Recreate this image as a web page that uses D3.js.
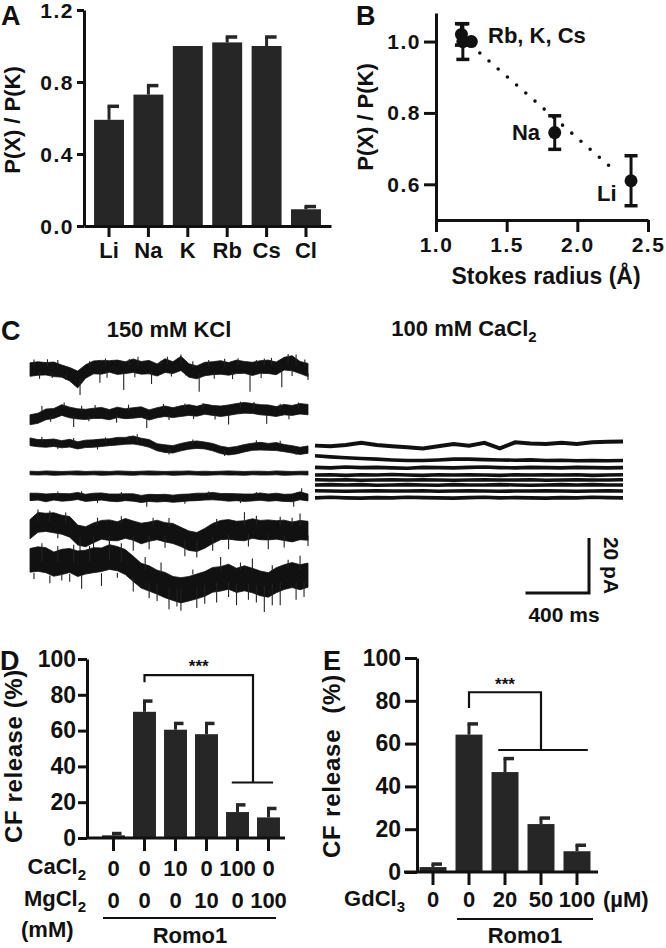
<!DOCTYPE html>
<html><head><meta charset="utf-8">
<script src="https://cdn.jsdelivr.net/npm/d3@7"></script>
<style>
body{margin:0;background:#fff}
text{font-family:"Liberation Sans",Arial,sans-serif;font-weight:bold;fill:#111}
</style>
</head><body>
<svg id="fig" width="666" height="948"></svg>
<script>
// ---------------- DATA ----------------
// Panel A
const ionsA = ["Li","Na","K","Rb","Cs","Cl"];
const ratioA = [0.59,0.73,1.00,1.02,1.00,0.093];
const errA = [0.075,0.05,0,0.03,0.05,0.015];
const ticksA = [0,0.4,0.8,1.2];
// Panel B
const stokesB = [1.18,1.19,1.25,1.84,2.38];
const ratioB = [1.02,1.00,1.00,0.745,0.61];
const errB = [0.03,0.05,0,0.047,0.07];
const fitB = [[1.31,0.968],[2.28,0.633]];
const labelsB = ["Rb, K, Cs","Na","Li"];
const ticksBx = [1.0,1.5,2.0,2.5];
const ticksBy = [0.6,0.8,1.0];
// Panel C  (pA, sampled every dtL / dtR ms)
const dtL = 50, dtR = 97;
const offsL = [0,-15.6,-27.3,-37.5,-46.5,-58.2,-74.5];
const offsR = [-26.9,-32.4,-35.6,-38.2,-40,-41.8,-44,-46.5];
const hi1 = [2.6,3.0,2.7,2.9,1.8,0.9,-0.4,1.9,3.3,3.5,3.4,3.6,3.0,4.0,3.1,3.5,2.2,4.1,3.0,5.0,2.3,1.5,2.8,3.0,3.4,2.7,3.6,3.1,2.8,3.4,3.6,2.9,4.6,5.2,3.1,2.4];
const lo1 = [-2.3,-1.9,-1.8,-2.4,-2.6,-4.0,-6.5,-3.0,-1.4,-1.5,-0.8,-1.6,-1.3,-0.9,-1.5,-1.4,-2.2,-0.9,-1.3,-0.2,-2.6,-3.2,-2.1,-1.7,-1.5,-1.9,-1.3,-1.2,-2.0,-1.2,-1.3,-1.7,0.0,-0.3,-1.3,-2.4];
const hi2 = [-0.7,-0.1,1.4,1.6,3.0,2.1,1.5,1.3,1.7,2.0,1.2,2.1,1.5,1.9,2.2,1.1,1.9,2.5,1.9,2.6,3.0,2.4,3.2,2.7,2.5,2.9,3.4,3.8,3.4,3.0,2.9,2.3,3.1,2.7,3.4,3.1];
const lo2 = [-4.3,-3.8,-2.5,-2.0,-0.9,-1.8,-2.2,-2.4,-2.0,-2.0,-2.5,-1.7,-2.1,-1.9,-1.6,-2.6,-1.8,-1.3,-1.7,-1.3,-0.9,-1.2,-0.5,-0.9,-1.3,-0.9,-0.4,-0.1,-0.2,-0.7,-0.9,-1.3,-0.7,-0.9,-0.4,-0.7];
const hi3 = [2.6,2.0,2.0,2.2,1.6,2.1,1.2,1.8,1.9,2.2,2.3,2.8,2.8,3.3,2.5,2.0,0.5,0.1,-0.2,0.6,1.2,1.5,1.1,0.6,-0.4,-0.9,-0.5,0.2,0.7,1.0,0.6,0.9,0.2,-0.2,-0.8,-0.3];
const lo3 = [-0.2,-0.6,-0.8,-0.5,-1.0,-0.7,-1.4,-0.9,-0.8,-0.5,-0.2,0.0,0.3,0.4,-0.1,-0.8,-2.1,-2.7,-2.9,-2.1,-1.5,-1.2,-1.4,-2.1,-3.1,-3.6,-3.2,-2.5,-1.9,-1.8,-1.9,-2.0,-2.4,-2.9,-3.4,-3.0];
const hi4 = [0.7,0.6,0.8,0.7,0.6,0.7,0.8,0.6,0.7,0.7,0.6,0.8,0.7,0.6,0.7,0.8,0.7,0.6,0.7,0.7,0.8,0.6,0.7,0.6,0.7,0.8,0.7,0.6,0.7,0.7,0.6,0.8,0.7,0.6,0.7,0.7];
const lo4 = [-0.6,-0.7,-0.6,-0.8,-0.7,-0.6,-0.7,-0.7,-0.6,-0.8,-0.7,-0.6,-0.7,-0.8,-0.6,-0.7,-0.7,-0.6,-0.8,-0.7,-0.6,-0.7,-0.8,-0.7,-0.6,-0.7,-0.7,-0.8,-0.6,-0.7,-0.7,-0.6,-0.8,-0.7,-0.6,-0.7];
const hi5 = [1.7,1.7,1.4,1.6,1.6,1.5,2.0,1.3,1.7,1.8,1.4,1.4,1.5,1.5,0.9,1.3,1.2,1.3,1.0,1.3,1.4,1.7,1.7,2.0,1.6,1.6,1.5,1.4,1.4,1.8,1.4,1.7,1.3,1.4,2.2,1.4];
const lo5 = [-1.0,-0.8,-1.4,-0.8,-1.2,-1.0,-0.6,-1.3,-1.0,-0.8,-1.2,-1.4,-1.0,-1.2,-1.7,-1.3,-1.5,-1.3,-1.6,-1.4,-1.1,-1.0,-0.8,-0.7,-0.9,-1.2,-1.0,-1.3,-1.1,-0.9,-1.2,-1.0,-1.3,-1.4,-0.7,-1.1];
const hi6 = [3.8,6.4,6.1,6.3,5.4,4.9,1.8,1.2,2.6,3.5,3.7,3.0,4.2,3.3,2.5,2.9,3.6,2.7,2.4,1.0,-0.3,-0.9,0.6,2.4,3.5,3.8,3.2,3.4,4.1,3.5,3.7,3.4,3.6,2.9,3.5,3.2];
const lo6 = [-3.2,-0.8,-0.5,-1.0,-1.5,-2.6,-5.4,-6.1,-4.6,-3.3,-3.8,-3.9,-3.0,-3.7,-5.0,-4.1,-3.5,-4.3,-4.9,-6.0,-7.4,-7.8,-6.6,-4.9,-3.5,-3.3,-3.7,-3.9,-3.0,-3.5,-3.6,-3.3,-3.8,-4.3,-3.5,-3.7];
const hi7 = [9.6,10.2,9.9,8.3,9.3,9.6,8.7,9.0,9.9,9.8,11.0,10.3,9.2,6.8,4.2,3.3,1.7,0.9,-0.6,-1.0,-0.6,0.3,1.2,2.7,3.0,3.9,2.4,3.3,2.4,1.4,0.8,2.6,3.7,4.5,3.7,4.3];
const lo7 = [1.0,1.3,0.8,-0.5,0.1,0.9,-0.6,0.3,0.8,1.2,2.0,1.5,0.1,-2.4,-4.8,-5.9,-7.0,-8.3,-9.3,-10.2,-9.5,-8.7,-7.8,-6.3,-5.9,-5.2,-6.4,-5.8,-6.5,-7.6,-8.1,-6.5,-5.3,-4.6,-5.4,-4.5];
// spikes / excursions: [sample index, pA]
const sp1 = [[6.3,-9.1],[11.8,-7.3],[15.3,-5.1],[21.3,-7.9],[27.7,-7.9],[31.7,-6.3],[8.8,-4.6],[32.5,5.8],[19,5.6],
  [0.5,3.8],[2.2,3.9],[3.5,3.6],[7.5,3.2],[9.5,4.2],[12.5,4.0],[13.6,4.8],[16.5,3.4],[17.3,4.8],[20.5,3.2],[22.5,3.6],[24.5,4.1],[26.2,4.3],[28.5,3.6],[29.5,4.2],[30.4,4.4],[33.5,5.6],[34.6,3.8],
  [1.2,-3.2],[2.8,-2.9],[4.5,-3.6],[9.7,-2.8],[13.2,-2.6],[17.8,-2.4],[19.6,-2.0],[23.2,-3.2],[25.5,-3.3],[29.1,-2.9],[33,-2.2],[35,-3.6]];
const sp2 = [[5.5,-5.1],[14.7,-5.5],[25,-4.2],[29.8,-3.9],[10.9,-3.6],[1.5,2.5],
  [4.3,3.8],[6.5,2.6],[8.2,2.9],[12.4,3.0],[16.8,3.2],[19.5,3.4],[21.8,3.6],[26.5,4.1],[28.2,4.0],[31.5,3.3],[33.8,3.8],
  [2.6,-3.2],[7.4,-3.0],[17.5,-2.6],[20.6,-2.2],[23.3,-2.4],[32.6,-2.3]];
const sp3 = [[1.5,3.0],[5.5,2.6],[9.5,2.8],[12.5,3.4],[13.5,3.9],[20.5,2.0],[28.5,1.8],[31.5,1.6],[3.5,-1.4],[8.5,-1.6],[17.5,-3.4],[24.5,-4.0],[33.5,-3.6]];
const sp5 = [[34.2,3.5],[33.2,-3.2],[14.7,-3.2],[3.5,2.3],[6.5,2.4],[11.5,2.1],[22.5,2.3],[28.5,2.1],[8.5,-1.9],[19.5,-2.1],[26.5,-1.9]];
const sp6 = [[6.3,-9],[10,-7],[13,-7.5],[19.5,-9.5],[21,-10],[25,-7],[30,-7],[1,7.5],[27,6.5],[34,6],
  [2.5,7.0],[4.5,6.4],[8.5,4.5],[11.5,5.0],[15.5,4.5],[17.5,4.4],[23.5,4.0],[28.5,5.2],[31.5,4.8],[33,4.5],
  [3.5,-3.0],[8,-6.5],[15,-7.0],[17,-6.4],[23,-7.5],[27.5,-6.0],[32,-6.3],[35,-5.8]];
const sp7 = [[2.5,-3],[4,-2],[6.5,-5],[9,-4],[13,-6],[17.5,-12.5],[19,-13],[21,-12],[23.5,-10],[26,-11],[29.5,-13.5],[31.5,-11],[33.5,-9],[10,13],[24,6.5],[28,6],[34,7],
  [1.5,11.5],[3.5,10.5],[5.5,11],[7.5,10.5],[11.5,11.5],[14.5,6.5],[16.5,4.5],[20.5,2],[26.5,4.5],[30.5,3.5],[32.5,5.5],
  [0.5,-1.5],[5,-2.5],[11,-1],[15,-8.5],[16,-9.5],[18.5,-11.5],[22,-10.5],[25,-8],[27.5,-9],[28.5,-10],[30.5,-11],[34.5,-8]];
const r1 = [-0.6,-0.8,-0.4,0.4,-0.4,-0.8,-1.2,-1.6,-0.8,0,-0.6,0.4,-1.6,0.6,0.2,0,0.4,0,0.6,0.8,0.9];
const r2 = [1.2,0.8,0.5,0.2,0,-0.3,-0.5,-0.5,-0.3,0,0,-0.2,-0.3,-0.4,-0.3,-0.5,-0.4,-0.6,-0.5,-0.6,-0.5];
const r3 = [0.2,0,0.3,0.1,0.2,0,-0.1,0.2,0.1,0,0.2,0.3,0.1,0,0.2,0.1,0,0.2,0.1,0,0.1];
const r4 = [0,0.1,-0.1,0.1,0,0.2,0,-0.1,0.1,0,0.1,0,-0.1,0.1,0,0.1,0,0.1,-0.1,0,0.1];
const r5 = [0.1,0,0.1,-0.1,0,0.1,0,0.1,0,-0.1,0,0.1,0,0,0.1,-0.1,0,0.1,0,0,0.1];
const r6 = [0,0.1,0,0.1,-0.1,0,0.1,0,-0.1,0.1,0,0,0.1,0,-0.1,0,0.1,0,0.1,0,0];
const r7 = [0.1,0,-0.1,0,0.1,0,0,0.1,-0.1,0,0.1,0,-0.1,0,0,0.1,0,-0.1,0,0.1,0];
const r8 = [0,0.2,0,-0.1,0.1,0,0.2,0.1,0,-0.1,0.1,0.2,0,0.1,0,-0.1,0.1,0,0.2,0.1,0];
const scaleBarPA = 20, scaleBarMs = 400;
// Panel D
const caD = ["0","0","10","0","100","0"];
const mgD = ["0","0","0","10","0","100"];
const releaseD = [1.5,70.5,60.5,58,14.5,11.5];
const errD = [1,6,3.5,6,4,5];
const bracketD = [87,91,31];
// Panel E
const gdE = ["0","0","20","50","100"];
const releaseE = [2.3,64.2,46.7,22.4,9.7];
const errE = [1.4,5,6.3,2.8,2.8];
const bracketE = [76.6,84,57];
const ticksDE = [0,20,40,60,80,100];

// ---------------- DRAW ----------------
const svg = d3.select("#fig");
const INK = "#111", BAR = "#262626";

function styleAxis(g, fs){
  g.selectAll("path.domain").attr("stroke",INK).attr("stroke-width",3);
  g.selectAll(".tick line").attr("stroke",INK).attr("stroke-width",3);
  g.selectAll(".tick text").attr("fill",INK).style("font-size",fs+"px")
   .style("font-family",'"Liberation Sans",Arial,sans-serif').style("font-weight","bold");
}
function letter(t,x,y){ svg.append("text").attr("x",x).attr("y",y).style("font-size","27px").text(t); }

// ---- A ----
{
  const y = d3.scaleLinear().domain([0,1.2]).range([226,10]);
  const x = d3.scaleBand().domain(ionsA).range([84,331]).paddingInner(0.24).paddingOuter(0.255);
  const g = svg.append("g");
  g.selectAll("rect").data(ionsA).join("rect")
    .attr("x",d=>x(d)).attr("width",x.bandwidth())
    .attr("y",(d,i)=>y(ratioA[i])).attr("height",(d,i)=>y(0)-y(ratioA[i])).attr("fill",BAR);
  ionsA.forEach((d,i)=>{
    if(errA[i]<=0) return;
    const cx = x(d)+x.bandwidth()/2;
    g.append("line").attr("x1",cx).attr("x2",cx).attr("y1",y(ratioA[i])).attr("y2",y(ratioA[i]+errA[i])).attr("stroke",BAR).attr("stroke-width",3);
    g.append("line").attr("x1",cx-1.5).attr("x2",cx+10).attr("y1",y(ratioA[i]+errA[i])).attr("y2",y(ratioA[i]+errA[i])).attr("stroke",BAR).attr("stroke-width",3.5);
  });
  const ya = svg.append("g").attr("transform","translate(84,0)")
    .call(d3.axisLeft(y).tickValues(ticksA).tickFormat(d3.format(".1f")).tickSize(7).tickSizeOuter(0).tickPadding(3));
  styleAxis(ya,21);
  ya.selectAll(".tick text").attr("dy","0.36em").style("letter-spacing","1.5px");
  const xa = svg.append("g").attr("transform","translate(0,226)")
    .call(d3.axisBottom(x).tickSize(11).tickSizeOuter(0).tickPadding(5));
  styleAxis(xa,22);
  svg.append("text").attr("transform","translate(20,120) rotate(-90)").attr("text-anchor","middle").style("font-size","22px").text("P(X) / P(K)");
  letter("A",1,25);
}

// ---- B ----
{
  const x = d3.scaleLinear().domain([1.0,2.5]).range([436,648]);
  const y = d3.scaleLinear().domain([0.5,1.08]).range([220,13]);
  svg.append("path").attr("d",d3.line().x(d=>x(d[0])).y(d=>y(d[1]))(fitB))
    .attr("stroke",INK).attr("stroke-width",3.6).attr("stroke-linecap","round").attr("stroke-dasharray","0 12.2").attr("fill","none");
  stokesB.forEach((s,i)=>{
    const cx=x(s);
    if(errB[i]>0){
      svg.append("line").attr("x1",cx).attr("x2",cx).attr("y1",y(ratioB[i]-errB[i])).attr("y2",y(ratioB[i]+errB[i])).attr("stroke",INK).attr("stroke-width",3);
      [ratioB[i]-errB[i],ratioB[i]+errB[i]].forEach(v=>svg.append("line").attr("x1",cx-6.5).attr("x2",cx+6.5).attr("y1",y(v)).attr("y2",y(v)).attr("stroke",INK).attr("stroke-width",3.5));
    }
    svg.append("circle").attr("cx",cx).attr("cy",y(ratioB[i])).attr("r",6.5).attr("fill",INK);
  });
  const xb = svg.append("g").attr("transform","translate(0,220)")
    .call(d3.axisBottom(x).tickValues(ticksBx).tickFormat(d3.format(".1f")).tickSize(12).tickSizeOuter(0).tickPadding(5));
  styleAxis(xb,21); xb.selectAll(".tick text").style("letter-spacing","1.5px");
  const yb = svg.append("g").attr("transform","translate(436,0)")
    .call(d3.axisLeft(y).tickValues(ticksBy).tickFormat(d3.format(".1f")).tickSize(12).tickSizeOuter(0).tickPadding(3));
  styleAxis(yb,21); yb.selectAll(".tick text").style("letter-spacing","1.5px");
  svg.append("text").attr("x",488).attr("y",43).style("font-size","22px").text(labelsB[0]);
  svg.append("text").attr("x",540).attr("y",140).attr("text-anchor","end").style("font-size","22px").text(labelsB[1]);
  svg.append("text").attr("x",597).attr("y",201).style("font-size","22px").text(labelsB[2]);
  svg.append("text").attr("transform","translate(373,117) rotate(-90)").attr("text-anchor","middle").style("font-size","22px").text("P(X) / P(K)");
  svg.append("text").attr("x",546).attr("y",284).attr("text-anchor","middle").style("font-size","23px").text("Stokes radius (Å)");
  letter("B",356,25);
}

// ---- C ----
{
  const xL = d3.scaleLinear().domain([0,1750]).range([30,308]);
  const xR = d3.scaleLinear().domain([0,1940]).range([315,623]);
  const yC = d3.scaleLinear().domain([0,20]).range([370,315]);
  const left = [[hi1,lo1,sp1],[hi2,lo2,sp2],[hi3,lo3,sp3],[hi4,lo4,[]],[hi5,lo5,sp5],[hi6,lo6,sp6],[hi7,lo7,sp7]];
  const gL = svg.append("g");
  left.forEach(([hi,lo,sp],k)=>{
    const off = offsL[k];
    const area = d3.area().x((d,i)=>xL(i*dtL)).y0((d,i)=>yC(off+lo[i])).y1((d,i)=>yC(off+hi[i]));
    gL.append("path").attr("d",area(hi)).attr("fill",INK).attr("stroke",INK).attr("stroke-width",0.8);
    sp.forEach(([t,v])=>{
      const i0 = Math.min(hi.length-1, Math.round(t));
      const base = v<0 ? lo[i0] : hi[i0];
      gL.append("line").attr("x1",xL(t*dtL)).attr("x2",xL(t*dtL)).attr("y1",yC(off+base*0.5)).attr("y2",yC(off+v))
        .attr("stroke","#222").attr("stroke-width",1.1);
    });
  });
  const right = [r1,r2,r3,r4,r5,r6,r7,r8];
  right.forEach((r,k)=>{
    const off = offsR[k];
    const line = d3.line().x((d,i)=>xR(i*dtR)).y(d=>yC(off+d));
    svg.append("path").attr("d",line(r)).attr("fill","none").attr("stroke",INK).attr("stroke-width",k===0?4:3.6);
  });
  // scale bar
  const bx = 589, by = 593;
  const len400 = xR(scaleBarMs)-xR(0), len20 = yC(0)-yC(scaleBarPA);
  svg.append("path").attr("d",`M${bx-len400},${by}H${bx}V${by-len20}`).attr("fill","none").attr("stroke",INK).attr("stroke-width",3);
  svg.append("text").attr("x",bx-25).attr("y",622).attr("text-anchor","middle").style("font-size","21px").text(scaleBarMs+" ms");
  svg.append("text").attr("transform",`translate(604,${by-len20/2}) rotate(90)`).attr("text-anchor","middle").style("font-size","21px").text(scaleBarPA+" pA");
  svg.append("text").attr("x",169).attr("y",337).attr("text-anchor","middle").style("font-size","22px").text("150 mM KCl");
  const t2 = svg.append("text").attr("x",464).attr("y",336).attr("text-anchor","middle").style("font-size","22px");
  t2.append("tspan").text("100 mM CaCl");
  t2.append("tspan").attr("dy",6).style("font-size","15px").text("2");
  letter("C",1,340);
}

// ---- D ----
{
  const y = d3.scaleLinear().domain([0,100]).range([838,659]);
  const idx = d3.range(releaseD.length);
  const x = d3.scaleBand().domain(idx).range([98,284]).paddingInner(0.26).paddingOuter(0.13);
  const bw = x.bandwidth();
  svg.selectAll(".barD").data(idx).join("rect").attr("class","barD")
    .attr("x",i=>x(i)).attr("width",bw).attr("y",i=>y(releaseD[i])).attr("height",i=>y(0)-y(releaseD[i])).attr("fill",BAR);
  idx.forEach(i=>{
    const cx=x(i)+bw/2, top=y(releaseD[i]+errD[i]);
    svg.append("line").attr("x1",cx).attr("x2",cx).attr("y1",y(releaseD[i])).attr("y2",top).attr("stroke",BAR).attr("stroke-width",3);
    svg.append("line").attr("x1",cx-1.5).attr("x2",cx+8).attr("y1",top).attr("y2",top).attr("stroke",BAR).attr("stroke-width",3.5);
  });
  const yd = svg.append("g").attr("transform","translate(87,0)")
    .call(d3.axisLeft(y).tickValues(ticksDE).tickSize(9).tickSizeOuter(0).tickPadding(2));
  styleAxis(yd,23);
  svg.append("line").attr("x1",87).attr("x2",285).attr("y1",838).attr("y2",838).attr("stroke",INK).attr("stroke-width",3);
  const xd = svg.append("g").attr("transform","translate(0,838)").call(d3.axisBottom(x).tickSize(13).tickFormat(""));
  xd.select("path.domain").remove(); styleAxis(xd,21);
  idx.forEach(i=>{
    const cx=x(i)+bw/2;
    svg.append("text").attr("x",cx).attr("y",876).attr("text-anchor","middle").style("font-size","22px").text(caD[i]);
    svg.append("text").attr("x",cx).attr("y",908).attr("text-anchor","middle").style("font-size","22px").text(mgD[i]);
  });
  const c1 = svg.append("text").attr("x",86).attr("y",874).attr("text-anchor","end").style("font-size","22px");
  c1.append("tspan").text("CaCl"); c1.append("tspan").attr("dy",6).style("font-size","15px").text("2");
  const c2 = svg.append("text").attr("x",86).attr("y",906).attr("text-anchor","end").style("font-size","22px");
  c2.append("tspan").text("MgCl"); c2.append("tspan").attr("dy",6).style("font-size","15px").text("2");
  svg.append("text").attr("x",21).attr("y",937).style("font-size","22px").text("(mM)");
  svg.append("line").attr("x1",103).attr("x2",276).attr("y1",918).attr("y2",918).attr("stroke",INK).attr("stroke-width",2.2);
  svg.append("text").attr("x",190).attr("y",943).attr("text-anchor","middle").style("font-size","22px").text("Romo1");
  const bxL = x(1)+bw/2, bxR = (x(4)+x(5))/2+bw/2;
  svg.append("path").attr("d",`M${bxL},${y(bracketD[0])}V${y(bracketD[1])}H${bxR}V${y(bracketD[2])}`).attr("fill","none").attr("stroke",INK).attr("stroke-width",2.2);
  svg.append("line").attr("x1",x(4)+bw*0.25).attr("x2",x(5)+bw*0.7).attr("y1",y(bracketD[2])).attr("y2",y(bracketD[2])).attr("stroke",INK).attr("stroke-width",2.2);
  svg.append("text").attr("x",(bxL+bxR)/2).attr("y",672).attr("text-anchor","middle").style("font-size","17px").text("***");
  svg.append("text").attr("transform","translate(22,756) rotate(-90)").attr("text-anchor","middle").style("font-size","24px").style("letter-spacing","0.6px").text("CF release (%)");
  letter("D",0,670);
}

// ---- E ----
{
  const y = d3.scaleLinear().domain([0,100]).range([872,658]);
  const idx = d3.range(releaseE.length);
  const x = d3.scaleBand().domain(idx).range([414,596]).paddingInner(0.25).paddingOuter(0.153);
  const bw = x.bandwidth();
  svg.selectAll(".barE").data(idx).join("rect").attr("class","barE")
    .attr("x",i=>x(i)).attr("width",bw).attr("y",i=>y(releaseE[i])).attr("height",i=>y(0)-y(releaseE[i])).attr("fill",BAR);
  idx.forEach(i=>{
    const cx=x(i)+bw/2, top=y(releaseE[i]+errE[i]);
    svg.append("line").attr("x1",cx).attr("x2",cx).attr("y1",y(releaseE[i])).attr("y2",top).attr("stroke",BAR).attr("stroke-width",3);
    svg.append("line").attr("x1",cx-1.5).attr("x2",cx+9).attr("y1",top).attr("y2",top).attr("stroke",BAR).attr("stroke-width",3.5);
  });
  const ye = svg.append("g").attr("transform","translate(417,0)")
    .call(d3.axisLeft(y).tickValues(ticksDE).tickSize(12).tickSizeOuter(0).tickPadding(4));
  styleAxis(ye,23);
  svg.append("line").attr("x1",404).attr("x2",598).attr("y1",872).attr("y2",872).attr("stroke",INK).attr("stroke-width",3);
  const xe = svg.append("g").attr("transform","translate(0,872)").call(d3.axisBottom(x).tickSize(13).tickFormat(""));
  xe.select("path.domain").remove(); styleAxis(xe,21);
  idx.forEach(i=>{
    svg.append("text").attr("x",x(i)+bw/2).attr("y",907).attr("text-anchor","middle").style("font-size","22px").text(gdE[i]);
  });
  const g1 = svg.append("text").attr("x",405).attr("y",906).attr("text-anchor","end").style("font-size","22px");
  g1.append("tspan").text("GdCl"); g1.append("tspan").attr("dy",6).style("font-size","15px").text("3");
  svg.append("text").attr("x",603).attr("y",907).style("font-size","22px").text("(µM)");
  svg.append("line").attr("x1",457).attr("x2",593).attr("y1",919).attr("y2",919).attr("stroke",INK).attr("stroke-width",2.2);
  svg.append("text").attr("x",525).attr("y",943).attr("text-anchor","middle").style("font-size","22px").text("Romo1");
  const bxL = x(1)+bw/2, bxR = x(3)+bw/2;
  svg.append("path").attr("d",`M${bxL},${y(bracketE[0])}V${y(bracketE[1])}H${bxR}V${y(bracketE[2])}`).attr("fill","none").attr("stroke",INK).attr("stroke-width",2.2);
  svg.append("line").attr("x1",x(2)+bw*0.25).attr("x2",x(4)+bw*0.9).attr("y1",y(bracketE[2])).attr("y2",y(bracketE[2])).attr("stroke",INK).attr("stroke-width",2.2);
  svg.append("text").attr("x",(bxL+bxR)/2).attr("y",690).attr("text-anchor","middle").style("font-size","17px").text("***");
  svg.append("text").attr("transform","translate(340,766) rotate(-90)").attr("text-anchor","middle").style("font-size","24px").style("letter-spacing","0.8px").attr("xml:space","preserve").text("CF release  (%)");
  letter("E",323,670);
}
</script>
</body></html>
